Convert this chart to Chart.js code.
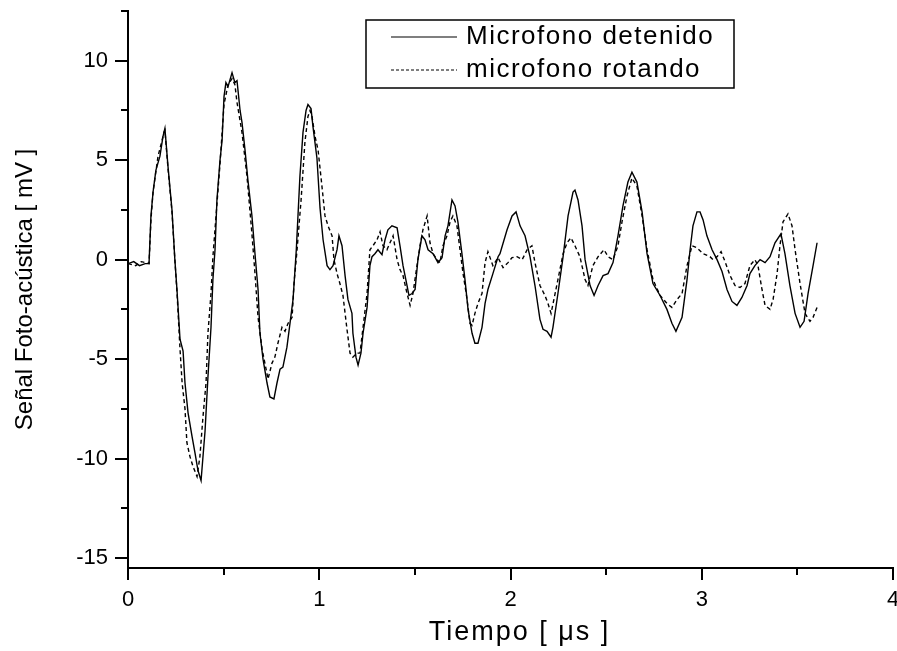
<!DOCTYPE html>
<html>
<head>
<meta charset="utf-8">
<title>Señal foto-acústica</title>
<script src="https://cdn.jsdelivr.net/npm/chart.js@4.4.1/dist/chart.umd.min.js"></script>
<style>
    html, body { margin: 0; padding: 0; background: #fff; }
    canvas { display: block; }
</style>
</head>
<body>
<canvas id="signalChart" width="897" height="651"></canvas>
<script>
// Tiempo [us] / señal [mV] - microfono detenido
const detenidoT = [0, 0.03, 0.06, 0.09, 0.11, 0.12, 0.131, 0.146, 0.167, 0.183, 0.193, 0.209, 0.23, 0.245, 0.256,
    0.272, 0.288, 0.298, 0.314, 0.335, 0.35, 0.366, 0.382, 0.403, 0.418, 0.434, 0.444, 0.455, 0.465, 0.481,
    0.492, 0.502, 0.512, 0.523, 0.544, 0.559, 0.57, 0.586, 0.596, 0.612, 0.627, 0.648, 0.664, 0.68, 0.69,
    0.706, 0.727, 0.742, 0.763, 0.779, 0.795, 0.81, 0.831, 0.847, 0.863, 0.88, 0.899, 0.915, 0.931, 0.941,
    0.957, 0.967, 0.988, 1.004, 1.02, 1.041, 1.056, 1.072, 1.093, 1.103, 1.119, 1.135, 1.15, 1.171, 1.176,
    1.192, 1.203, 1.218, 1.229, 1.25, 1.265, 1.276, 1.291, 1.307, 1.328, 1.344, 1.359, 1.38, 1.407, 1.422,
    1.438, 1.459, 1.469, 1.485, 1.501, 1.516, 1.537, 1.553, 1.569, 1.595, 1.621, 1.642, 1.658, 1.673, 1.694,
    1.71, 1.725, 1.746, 1.762, 1.778, 1.799, 1.814, 1.83, 1.851, 1.867, 1.882, 1.908, 1.935, 1.945, 1.982,
    2.008, 2.029, 2.05, 2.076, 2.102, 2.128, 2.154, 2.17, 2.191, 2.212, 2.222, 2.248, 2.275, 2.301, 2.327,
    2.337, 2.353, 2.374, 2.39, 2.416, 2.437, 2.458, 2.484, 2.51, 2.536, 2.562, 2.588, 2.614, 2.635, 2.661,
    2.688, 2.714, 2.745, 2.782, 2.818, 2.844, 2.865, 2.897, 2.923, 2.939, 2.954, 2.975, 2.991, 3.007, 3.027,
    3.054, 3.08, 3.106, 3.132, 3.158, 3.184, 3.21, 3.237, 3.252, 3.278, 3.305, 3.331, 3.357, 3.383, 3.414,
    3.435, 3.461, 3.488, 3.514, 3.535, 3.556, 3.582, 3.603];
const detenidoV = [-0.2, -0.1, -0.3, -0.2, -0.2, 2.2, 3.4, 4.5, 5.2, 6.2, 6.6, 4.7, 2.5, 0, -1.5,
    -4.0, -4.6, -6.2, -7.7, -8.9, -9.7, -10.6, -11.1, -8.6, -5.9, -3.4, -1.0, 0.5, 3.0, 5.0,
    6.0, 8.2, 8.9, 8.7, 9.4, 8.9, 9.0, 7.5, 6.9, 5.5, 4.0, 2.2, 0.3, -1.5, -3.7,
    -5.0, -6.2, -6.9, -7.0, -6.2, -5.5, -5.4, -4.4, -3.2, -2.0, 0.5, 4.2, 6.4, 7.5, 7.8,
    7.6, 6.7, 5.1, 2.6, 1.0, -0.3, -0.5, -0.3, 0.5, 1.2, 0.7, -0.8, -2.0, -2.7, -3.7,
    -4.9, -5.3, -4.7, -3.7, -2.4, -0.3, 0.15, 0.3, 0.5, 0.25, 1.0, 1.5, 1.7, 1.6, 0.7,
    -0.3, -1.3, -1.8, -1.7, -1.5, 0.0, 1.2, 1.0, 0.5, 0.3, -0.15, 0.1, 1.2, 1.7, 3.0,
    2.7, 1.9, 0.3, -1.0, -2.5, -3.7, -4.2, -4.2, -3.4, -2.2, -1.5, -0.7, 0.15, 0.3, 1.5,
    2.2, 2.4, 1.7, 1.2, 0.15, -1.3, -3.0, -3.5, -3.6, -3.9, -3.4, -1.7, 0.15, 2.2, 3.4,
    3.5, 3.0, 1.7, 0.0, -1.3, -1.8, -1.3, -0.8, -0.7, -0.15, 1.2, 2.7, 3.9, 4.4, 3.9,
    2.4, 0.3, -1.2, -1.8, -2.5, -3.2, -3.6, -2.9, -1.0, 0.5, 1.7, 2.4, 2.4, 2.0, 1.2,
    0.5, 0.0, -0.6, -1.5, -2.1, -2.3, -1.9, -1.3, -0.7, -0.3, 0.0, -0.15, 0.15, 0.85, 1.3,
    0.3, -1.3, -2.7, -3.4, -3.1, -1.7, -0.3, 0.85];

// microfono rotando
const rotandoT = [0, 0.04, 0.07, 0.11, 0.12, 0.131, 0.157, 0.178, 0.188, 0.193, 0.209, 0.23, 0.245, 0.256, 0.272,
    0.283, 0.298, 0.308, 0.324, 0.34, 0.361, 0.376, 0.392, 0.408, 0.418, 0.434, 0.444, 0.465, 0.481, 0.502,
    0.523, 0.544, 0.559, 0.57, 0.596, 0.622, 0.648, 0.664, 0.68, 0.701, 0.722, 0.732, 0.753, 0.768, 0.784,
    0.805, 0.821, 0.837, 0.858, 0.868, 0.884, 0.905, 0.925, 0.941, 0.952, 0.962, 0.978, 0.994, 1.014, 1.03,
    1.046, 1.067, 1.077, 1.093, 1.108, 1.124, 1.145, 1.161, 1.176, 1.197, 1.213, 1.229, 1.25, 1.265, 1.281,
    1.302, 1.318, 1.333, 1.354, 1.37, 1.386, 1.407, 1.422, 1.438, 1.459, 1.475, 1.49, 1.511, 1.527, 1.542,
    1.564, 1.579, 1.595, 1.616, 1.631, 1.647, 1.668, 1.684, 1.699, 1.72, 1.736, 1.752, 1.773, 1.788, 1.799,
    1.814, 1.83, 1.851, 1.867, 1.882, 1.908, 1.935, 1.961, 1.987, 2.008, 2.034, 2.061, 2.087, 2.112, 2.128,
    2.154, 2.18, 2.196, 2.212, 2.227, 2.248, 2.275, 2.296, 2.316, 2.337, 2.363, 2.39, 2.405, 2.431, 2.458,
    2.489, 2.51, 2.536, 2.562, 2.583, 2.609, 2.635, 2.661, 2.688, 2.714, 2.745, 2.782, 2.818, 2.844, 2.871,
    2.897, 2.923, 2.949, 2.975, 3.007, 3.043, 3.059, 3.08, 3.101, 3.122, 3.148, 3.174, 3.2, 3.226, 3.252,
    3.278, 3.294, 3.315, 3.331, 3.357, 3.373, 3.394, 3.409, 3.425, 3.451, 3.472, 3.488, 3.514, 3.54, 3.566,
    3.582, 3.603];
const rotandoV = [-0.2, -0.3, -0.1, -0.2, 2.0, 3.4, 5.2, 6.0, 6.4, 6.5, 4.6, 2.4, 0, -1.6, -4.5,
    -6.2, -7.5, -9.2, -9.9, -10.4, -10.9, -9.9, -7.9, -6.2, -3.7, -1.7, 0.15, 2.8, 4.8, 7.8,
    8.8, 9.1, 8.8, 7.9, 6.4, 4.2, 1.3, -0.7, -2.9, -4.5, -5.5, -6.0, -5.2, -4.9, -4.2,
    -3.4, -3.6, -3.2, -2.9, -1.2, 0.5, 3.0, 5.9, 7.2, 7.5, 7.2, 6.2, 5.5, 3.7, 2.2,
    1.7, 1.2, 0, -0.7, -1.2, -1.8, -3.5, -4.7, -4.9, -4.7, -4.7, -3.4, -1.7, 0.5, 0.7,
    1.0, 1.4, 0.7, 0.5, 0.85, 1.2, 0, -0.5, -0.8, -1.7, -2.3, -1.7, -0.3, 0.7, 1.5,
    2.2, 0.85, 0.3, 0, -0.15, 0.7, 1.2, 1.9, 2.2, 1.7, 0.5, -0.7, -2.0, -3.2, -3.3,
    -2.7, -2.2, -1.7, -0.15, 0.4, -0.3, 0.1, -0.4, -0.15, 0.1, 0.15, 0, 0.5, 0.7, -0.15,
    -1.3, -1.8, -2.2, -2.7, -2.0, -1.0, 0.3, 0.85, 1.1, 0.7, 0.15, -1.0, -1.3, -0.3, 0.15,
    0.5, 0.15, 0, 0.7, 1.9, 3.2, 4.1, 3.7, 2.2, 0.5, -1.0, -1.8, -2.2, -2.4, -2.0,
    -1.7, -0.3, 0.7, 0.6, 0.3, 0.15, 0, 0.15, 0.4, -0.1, -0.8, -1.3, -1.4, -1.2, -0.3,
    0, -0.3, -1.5, -2.3, -2.5, -2.0, -0.7, 0.7, 1.9, 2.3, 1.7, 0.5, -1.2, -2.7, -3.1,
    -2.9, -2.4];

const seriesNames = ['Microfono detenido', 'microfono rotando'];
const xTitle = 'Tiempo [ μs ]';
const yTitle = 'Señal Foto-acústica [ mV ]';
const xTicks = [0, 1, 2, 3, 4];
const yTicks = [-15, -10, -5, 0, 5, 10];

const FONT = '"Liberation Sans", Arial, sans-serif';

function toPoints(ts, vs) {
    return ts.map((t, i) => ({ x: t, y: vs[i] }));
}

// Outward tick marks: long ones on labelled values, short ones halfway between
const axisTicks = {
    id: 'axisTicks',
    afterDraw(chart) {
        const ctx = chart.ctx;
        const area = chart.chartArea;
        const xs = chart.scales.x;
        const ys = chart.scales.y;
        ctx.save();
        ctx.strokeStyle = '#000';
        ctx.lineWidth = 2;
        ctx.beginPath();
        for (let i = 0; i <= 8; i++) {
            const px = Math.round(xs.getPixelForValue(i * 0.5));
            ctx.moveTo(px, area.bottom);
            ctx.lineTo(px, area.bottom + (i % 2 === 0 ? 12 : 7));
        }
        for (let i = 0; i <= 11; i++) {
            const py = Math.round(ys.getPixelForValue(-15 + i * 2.5));
            ctx.moveTo(area.left, py);
            ctx.lineTo(area.left - (i % 2 === 0 ? 13 : 7), py);
        }
        ctx.stroke();

        // x title, slightly letter-spaced like the legend
        ctx.fillStyle = '#000';
        ctx.font = '27px ' + FONT;
        ctx.letterSpacing = '2px';
        ctx.textAlign = 'center';
        ctx.textBaseline = 'middle';
        ctx.fillText(xTitle, (area.left + area.right) / 2 + 9, 633);
        ctx.restore();
    }
};

// Boxed legend in the upper part of the plot
const boxLegend = {
    id: 'boxLegend',
    afterDraw(chart) {
        const ctx = chart.ctx;
        const box = { left: 366, top: 20, right: 734, bottom: 88 };
        ctx.save();
        ctx.strokeStyle = '#000';
        ctx.lineWidth = 1.5;
        ctx.strokeRect(box.left, box.top, box.right - box.left, box.bottom - box.top);

        const rows = [37, 70];
        chart.data.datasets.forEach((ds, i) => {
            ctx.beginPath();
            ctx.lineWidth = 1.2;
            ctx.setLineDash(ds.borderDash ? [3, 2] : []);
            ctx.moveTo(391, rows[i]);
            ctx.lineTo(457, rows[i]);
            ctx.stroke();
            ctx.setLineDash([]);

            ctx.fillStyle = '#000';
            ctx.font = '26px ' + FONT;
            ctx.letterSpacing = '1.5px';
            ctx.textBaseline = 'middle';
            ctx.textAlign = 'left';
            ctx.fillText(ds.label, 466, rows[i]);
        });
        ctx.restore();
    }
};

const ctx = document.getElementById('signalChart');
new Chart(ctx, {
    type: 'line',
    data: {
        datasets: [{
            label: seriesNames[0],
            data: toPoints(detenidoT, detenidoV),
            borderColor: '#000',
            borderWidth: 1.4,
            pointRadius: 0,
            tension: 0,
            fill: false
        }, {
            label: seriesNames[1],
            data: toPoints(rotandoT, rotandoV),
            borderColor: '#000',
            borderWidth: 1.4,
            borderDash: [4, 3],
            pointRadius: 0,
            tension: 0,
            fill: false
        }]
    },
    options: {
        responsive: false,
        animation: false,
        devicePixelRatio: 1,
        layout: {
            padding: { top: 11, right: 4, left: 0, bottom: 0 }
        },
        plugins: {
            legend: { display: false },
            tooltip: { enabled: false }
        },
        scales: {
            x: {
                type: 'linear',
                position: 'bottom',
                min: 0,
                max: 4,
                grid: { display: false, drawTicks: false },
                border: { display: true, color: '#000', width: 2 },
                afterBuildTicks: function(scale) {
                    scale.ticks = xTicks.map(v => ({ value: v }));
                },
                afterFit: function(scale) {
                    scale.height = 83;
                    scale.paddingLeft = 0;
                    scale.paddingRight = 0;
                },
                ticks: {
                    color: '#000',
                    padding: 19,
                    maxRotation: 0,
                    font: { family: FONT, size: 22 }
                }
            },
            y: {
                type: 'linear',
                min: -15.5,
                max: 12.5,
                grid: { display: false, drawTicks: false },
                border: { display: true, color: '#000', width: 2 },
                afterBuildTicks: function(scale) {
                    scale.ticks = yTicks.map(v => ({ value: v }));
                },
                afterFit: function(scale) {
                    scale.width = 128;
                    scale.paddingTop = 0;
                    scale.paddingBottom = 0;
                },
                ticks: {
                    color: '#000',
                    padding: 20,
                    font: { family: FONT, size: 22 }
                },
                title: {
                    display: true,
                    text: yTitle,
                    color: '#000',
                    padding: { top: 11, bottom: 0 },
                    font: { family: FONT, size: 24 }
                }
            }
        }
    },
    plugins: [axisTicks, boxLegend]
});
</script>
</body>
</html>
